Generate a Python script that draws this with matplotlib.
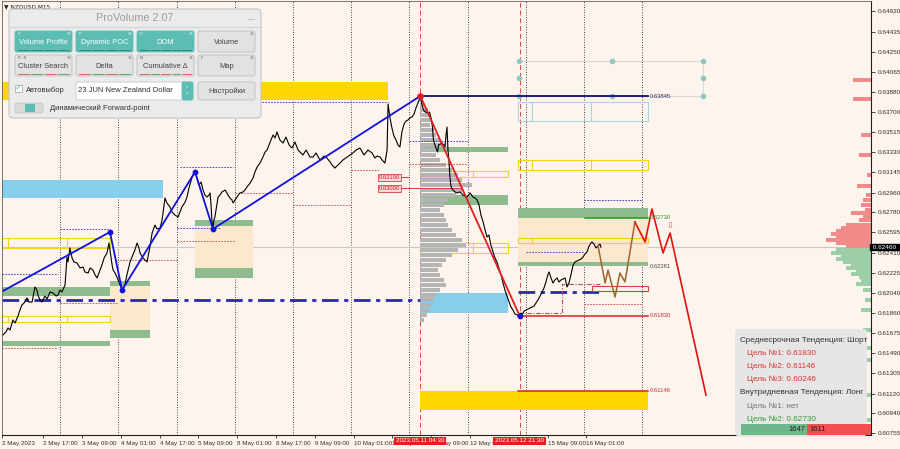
import matplotlib
matplotlib.use("Agg")
import matplotlib.pyplot as plt
from matplotlib.patches import Rectangle, FancyBboxPatch
from matplotlib.transforms import blended_transform_factory

plt.rcParams['font.family'] = ['Liberation Sans', 'DejaVu Sans']

# ---------------- data ----------------
# time axis: trading hours since 2 May 2023 00:00 (weekend skipped)
time_h = [0.4, 1.6, 2.5, 3.3, 4.5, 5.4, 6.6, 7.4, 8.2, 9.1, 10.3, 11.1, 12.4, 13.6, 14.4, 14.8, 15.7, 16.5, 17.7, 18.6,
          19.8, 21.0, 22.3, 23.1, 23.9, 24.7, 26.0, 26.8, 27.2, 28.0, 28.9, 29.7, 30.9, 32.2, 33.4, 34.2, 35.5, 36.3, 37.5,
          38.4, 39.2, 40.4, 41.2, 42.1, 43.3, 44.1, 44.5, 45.4, 45.8, 46.6, 47.4, 48.2, 49.5, 50.3, 50.7, 51.5, 52.0, 52.8,
          53.6, 54.8, 55.7, 56.5, 56.9, 58.1, 59.0, 59.8, 60.6, 61.0, 61.9, 63.1, 63.9, 65.2, 66.0, 66.4, 67.2, 68.0, 69.3,
          70.1, 71.3, 72.6, 73.4, 74.2, 75.5, 76.3, 77.1, 78.4, 79.6, 80.4, 81.2, 82.1, 82.9, 83.7, 84.5, 85.4, 85.8, 86.2,
          86.6, 87.0, 87.4, 87.8, 88.7, 89.1, 89.9, 90.7, 92.0, 93.2, 94.0, 94.8, 95.3, 96.1, 96.9, 98.1, 99.4, 100.2, 101.0,
          102.3, 103.5, 104.3, 105.2, 106.4, 107.6, 108.5, 109.3, 110.1, 110.9, 111.8, 112.6, 113.4, 114.6, 115.9, 117.1,
          118.4, 119.6, 120.8, 122.1, 122.9, 124.1, 125.4, 127.0, 128.2, 129.5, 131.1, 132.8, 134.0, 135.3, 136.1, 137.3,
          138.1, 139.4, 140.6, 142.3, 143.5, 144.7, 146.0, 147.6, 149.3, 150.9, 152.6, 153.8, 154.6, 155.9, 156.7, 157.9,
          158.8, 159.2, 160.0, 160.8, 161.6, 162.5, 163.3, 164.1, 164.9, 165.8, 166.6, 167.4, 168.2, 169.1, 169.9, 170.7,
          172.5, 173.0, 173.8, 174.6, 175.5, 176.3, 177.1, 177.5, 177.9, 178.8, 179.6, 180.0, 180.8, 181.4, 182.3, 182.7,
          183.1, 183.5, 183.9, 184.3, 184.7, 185.2, 186.0, 186.8, 187.6, 188.9, 190.1, 190.9, 191.8, 193.0, 194.2, 195.1,
          195.9, 196.7, 197.5, 198.4, 199.2, 200.0, 200.8, 201.6, 202.5, 203.3, 204.1, 204.9, 205.8, 206.6, 207.4, 208.2,
          209.1, 209.9, 210.7, 211.5, 213.5, 214.0, 214.4, 215.3, 216.1, 216.9, 217.7, 218.6, 219.4, 220.2, 221.0, 221.9,
          222.7, 223.5, 224.3, 225.2, 225.6, 226.4, 227.2, 228.0, 228.9, 229.7, 230.5, 231.3, 232.2, 233.0, 233.8, 234.6,
          235.5, 236.3, 237.1, 237.9, 238.8, 239.6, 240.4, 241.2, 242.1, 242.9, 243.3, 244.1, 244.9, 245.8, 246.6, 247.0]
close = [0.61656, 0.61683, 0.61720, 0.61702, 0.61793, 0.61766, 0.61830, 0.61885, 0.61931, 0.61949, 0.61995, 0.61958,
         0.61958, 0.62096, 0.62068, 0.62022, 0.61977, 0.61958, 0.62013, 0.61986, 0.62050, 0.62041, 0.62013, 0.62022,
         0.62068, 0.62050, 0.62114, 0.62370, 0.62325, 0.62453, 0.62361, 0.62325, 0.62316, 0.62270, 0.62279, 0.62233,
         0.62224, 0.62270, 0.62251, 0.62206, 0.62178, 0.62251, 0.62297, 0.62361, 0.62407, 0.62499, 0.62435, 0.62297,
         0.62251, 0.62224, 0.62187, 0.62141, 0.62068, 0.62096, 0.62114, 0.62206, 0.62251, 0.62325, 0.62370, 0.62435,
         0.62499, 0.62453, 0.62407, 0.62361, 0.62343, 0.62325, 0.62416, 0.62462, 0.62590, 0.62663, 0.62627, 0.62636,
         0.62709, 0.62773, 0.62911, 0.62865, 0.62828, 0.62783, 0.62755, 0.62737, 0.62783, 0.62828, 0.62874, 0.62920,
         0.63002, 0.63103, 0.63149, 0.63094, 0.63030, 0.63057, 0.62984, 0.62938, 0.62920, 0.62938, 0.62957, 0.62847,
         0.62691, 0.62636, 0.62709, 0.62737, 0.62865, 0.62920, 0.62938, 0.62966, 0.62984, 0.62938, 0.62911, 0.62893,
         0.62865, 0.62893, 0.62920, 0.62957, 0.62966, 0.62984, 0.63011, 0.63048, 0.63094, 0.63149, 0.63195, 0.63231,
         0.63286, 0.63332, 0.63350, 0.63396, 0.63442, 0.63488, 0.63460, 0.63515, 0.63442, 0.63414, 0.63469, 0.63396,
         0.63369, 0.63424, 0.63350, 0.63332, 0.63305, 0.63350, 0.63286, 0.63286, 0.63323, 0.63259, 0.63295, 0.63277,
         0.63240, 0.63213, 0.63185, 0.63204, 0.63231, 0.63259, 0.63286, 0.63305, 0.63323, 0.63350, 0.63369, 0.63305,
         0.63350, 0.63323, 0.63277, 0.63295, 0.63286, 0.63259, 0.63231, 0.63350, 0.63772, 0.63644, 0.63552, 0.63479,
         0.63442, 0.63396, 0.63378, 0.63515, 0.63589, 0.63616, 0.63625, 0.63644, 0.63653, 0.63680, 0.63735, 0.63836,
         0.63781, 0.63717, 0.63698, 0.63689, 0.63698, 0.63625, 0.63561, 0.63442, 0.63378, 0.63332, 0.63396, 0.63405,
         0.63414, 0.63396, 0.63378, 0.63488, 0.63561, 0.63350, 0.63259, 0.63103, 0.63011, 0.62984, 0.62966, 0.62957,
         0.62966, 0.62938, 0.62929, 0.62920, 0.62957, 0.62920, 0.62911, 0.62893, 0.62847, 0.62755, 0.62691, 0.62618,
         0.62554, 0.62572, 0.62480, 0.62416, 0.62361, 0.62325, 0.62270, 0.62206, 0.62132, 0.62068, 0.62013, 0.61958,
         0.61912, 0.61885, 0.61849, 0.61830, 0.61858, 0.61839, 0.61876, 0.61885, 0.61894, 0.61903, 0.61912, 0.61921,
         0.61949, 0.61977, 0.62013, 0.62050, 0.62087, 0.62141, 0.62215, 0.62233, 0.62178, 0.62132, 0.62160, 0.62178,
         0.62141, 0.62160, 0.62169, 0.62178, 0.62096, 0.62132, 0.62206, 0.62297, 0.62325, 0.62334, 0.62343, 0.62352,
         0.62370, 0.62398, 0.62416, 0.62471, 0.62499, 0.62508, 0.62490, 0.62453, 0.62471, 0.62490, 0.62460]

current_price = 0.62460

tick_hours = [0, 17, 33, 49, 65, 81, 97, 113, 129, 145, 161, 177, 193, 225, 241]
tick_labels = ["2 May 2023", "2 May 17:00", "3 May 09:00", "4 May 01:00", "4 May 17:00", "5 May 09:00",
               "8 May 01:00", "8 May 17:00", "9 May 09:00", "10 May 01:00", "10 May 17:00", "11 May 09:00",
               "12 May 01:00", "15 May 09:00", "16 May 01:00"]
day_sep_hours = [24, 48, 72, 96, 120, 144, 168, 192, 216, 240, 264]
marker_hours = [172.5, 213.5]
marker_labels = ["2023.05.11 04:30", "2023.05.12 21:30"]

price_ticks = [0.64620, 0.64435, 0.64250, 0.64065, 0.63880, 0.63700, 0.63515, 0.63330, 0.63145, 0.62960, 0.62780,
               0.62595, 0.62410, 0.62225, 0.62040, 0.61860, 0.61675, 0.61490, 0.61305, 0.61120, 0.60940, 0.60755]

# zones: (t_start, t_end, price_low, price_high)
gold_zones = [(0.0, 159.2, 0.63808, 0.63973), (172.4, 266.4, 0.60969, 0.61146)]
sky_zones = [(0.0, 66.4, 0.62911, 0.63076), (172.4, 208.7, 0.61858, 0.62041)]
green_zones = [(0.0, 44.5, 0.62013, 0.62096), (0.0, 44.5, 0.61555, 0.61601),
               (44.5, 61.0, 0.62105, 0.62151), (44.5, 61.0, 0.61628, 0.61702),
               (79.6, 103.5, 0.62654, 0.62709), (79.6, 103.5, 0.62178, 0.62270),
               (172.4, 208.7, 0.63332, 0.63378), (172.4, 208.7, 0.62847, 0.62938),
               (212.8, 266.4, 0.62730, 0.62819), (212.8, 266.4, 0.62287, 0.62325)]
beige_zones = [(44.5, 61.0, 0.61702, 0.62105), (79.6, 103.5, 0.62270, 0.62654), (212.8, 266.4, 0.62325, 0.62730)]
yellow_frames = [(0.0, 44.5, 0.62453, 0.62545), (0.0, 44.5, 0.61775, 0.61830),
                 (172.4, 208.7, 0.63103, 0.63158), (172.4, 208.7, 0.62407, 0.62499),
                 (212.8, 266.4, 0.63167, 0.63259), (212.8, 266.4, 0.62499, 0.62545)]
yellow_dividers = [[2.5, 26.8], [2.5, 26.8], [194.2], [194.2], [218.6, 242.9], [218.6]]
blue_frames = [(212.8, 266.4, 0.63616, 0.63790)]
blue_dividers = [[218.6, 242.9]]

# horizontal levels: (t_start, t_end, price)
blue_dashed = [(0.0, 23.1, 0.62215), (23.9, 44.5, 0.62627), (72.0, 89.9, 0.62636), (73.4, 95.3, 0.63195),
               (106.0, 159.2, 0.63790), (168.0, 192.0, 0.63433), (216.0, 240.0, 0.62416), (240.0, 264.0, 0.62893)]
red_dashed = [(0.0, 23.1, 0.61537), (23.9, 47.4, 0.61949), (47.4, 72.0, 0.62343), (72.0, 96.0, 0.62517),
              (96.0, 120.0, 0.62957), (120.0, 144.0, 0.62847), (144.0, 156.0, 0.63167), (168.0, 192.0, 0.63222),
              (240.0, 264.0, 0.61940)]
poc_lines = [(0.0, 172.4, 0.61977), (212.8, 246.6, 0.62050)]
navy_level = (172.5, 266.4, 0.63845)
red_levels = [(212.8, 266.4, 0.61830), (212.8, 266.4, 0.61146)]
green_level = (240.4, 266.4, 0.62730)
level_label_prices = [0.63845, 0.62730, 0.62281, 0.61830, 0.61146]
level_label_colors = ['#303060', '#2E8B2E', '#505050', '#C03030', '#C03030']

# zigzag (highs/lows)
zz_t = [0.4, 44.5, 49.5, 79.6, 87.0, 172.5]
zz_p = [0.62059, 0.62599, 0.62068, 0.63149, 0.62627, 0.63845]
zz_down_t = [172.5, 213.5]
zz_down_p = [0.63845, 0.61830]

# forecast paths
fc_brown_t = [245.8, 248.7, 249.9, 252.8, 254.8, 256.9, 261.0]
fc_brown_p = [0.62471, 0.62132, 0.62251, 0.62004, 0.62224, 0.62142, 0.62691]
fc_red_t = [261.0, 265.2, 268.0, 272.6, 275.5, 290.3]
fc_red_p = [0.62691, 0.62508, 0.62810, 0.62407, 0.62590, 0.61106]

# brown dash-dot bracket and small red frame
bracket_t = [212.8, 230.9, 230.9, 246.6]
bracket_p = [0.61858, 0.61858, 0.62123, 0.62123]
red_frame = (243.3, 266.4, 0.62059, 0.62105)

# forward-point grid dots
fp_t = [213.2, 251.5, 289.1, 213.2, 289.1, 213.2, 251.5, 289.1]
fp_p = [0.64166, 0.64166, 0.64166, 0.64010, 0.64010, 0.63845, 0.63845, 0.63845]

# labelled price marks
mark_prices = [0.63100, 0.63000]
mark_t = (154.6, 164.9)
mark_line_end = [168.0, 188.9]

# session volume profile (grey), starting at the 11 May high
vp_prices = [0.63808, 0.63763, 0.63717, 0.63671, 0.63625, 0.63579, 0.63534, 0.63488, 0.63442, 0.63396, 0.63350,
             0.63305, 0.63259, 0.63213, 0.63167, 0.63121, 0.63076, 0.63030, 0.62984, 0.62938, 0.62893, 0.62847,
             0.62801, 0.62755, 0.62709, 0.62663, 0.62618, 0.62572, 0.62526, 0.62480, 0.62435, 0.62389, 0.62343,
             0.62297, 0.62251, 0.62206, 0.62160, 0.62114, 0.62068, 0.62022, 0.61977, 0.61931, 0.61885, 0.61839, 0.61793]
vp_volume = [3, 5, 8, 10, 12, 10, 14, 16, 20, 22, 18, 16, 20, 26, 32, 38, 42, 52, 42, 36, 28, 24, 20, 24, 26, 28,
             32, 36, 42, 46, 38, 32, 26, 22, 18, 20, 24, 26, 20, 16, 14, 11, 9, 7, 4]

# right-edge market profile
rp_prices = [0.63992, 0.63818, 0.63488, 0.63305, 0.63121, 0.63021, 0.62938, 0.62893, 0.62847, 0.62801, 0.62773,
             0.62746, 0.62709, 0.62663, 0.62636, 0.62609, 0.62581, 0.62554, 0.62526, 0.62499, 0.62471,
             0.62435, 0.62407, 0.62380, 0.62352, 0.62325, 0.62297, 0.62270, 0.62242, 0.62215, 0.62187, 0.62160,
             0.62123, 0.62068, 0.61977, 0.61885, 0.61702, 0.61537, 0.61427, 0.61106, 0.60877]
rp_volume = [18, 18, 10, 12, 4, 14, 5, 8, 10, 6, 20, 8, 12, 25, 30, 35, 40, 35, 45, 35, 25,
             35, 40, 30, 35, 28, 20, 25, 15, 20, 12, 10, 15, 8, 6, 10, 8, 6, 12, 20, 12]

info_lines = ["Среднесрочная Тенденция: Шорт", "Цель №1: 0.61830", "Цель №2: 0.61146", "Цель №3: 0.60246",
              "Внутридневная Тенденция: Лонг", "Цель №1: нет", "Цель №2: 0.62730"]
info_colors = ['#303030', '#E03030', '#E03030', '#E03030', '#303030', '#707070', '#2E9B2E']
info_indent = [0, 1, 1, 1, 0, 1, 1]
buy_sell = [1647, 1611]

# ---------------- layout ----------------
W, H = 900, 449
AX_L, AX_R, AX_T, AX_B = 2, 871, 1, 435
PX_PER_HOUR = 2.425
REF_PRICE, REF_Y, PX_PER_PRICE = 0.63845, 96, 10918
BG = '#FDF4EE'

fig = plt.figure(figsize=(W / 100, H / 100), dpi=100)
fig.patch.set_facecolor(BG)
ax = fig.add_axes([AX_L / W, 1 - AX_B / H, (AX_R - AX_L) / W, (AX_B - AX_T) / H])
ax.set_facecolor(BG)
XMAX = (AX_R - AX_L) / PX_PER_HOUR
ax.set_xlim(0, XMAX)
ax.set_ylim(REF_PRICE - (AX_B - REF_Y) / PX_PER_PRICE, REF_PRICE + (REF_Y - AX_T) / PX_PER_PRICE)
PXH = 1 / PX_PER_HOUR          # one pixel in hours
PXP = 1 / PX_PER_PRICE         # one pixel in price

for s in ['left', 'top']:
    ax.spines[s].set_color('#606060'); ax.spines[s].set_linewidth(0.6)
for s in ['right', 'bottom']:
    ax.spines[s].set_color('#202020'); ax.spines[s].set_linewidth(0.8)

ax.yaxis.tick_right()
ax.set_yticks(price_ticks)
ax.set_yticklabels([f"{v:.5f}" for v in price_ticks])
ax.tick_params(axis='y', labelsize=4.6, length=3, width=0.6, colors='#303030', pad=1.5)
ax.set_xticks(tick_hours)
ax.set_xticklabels(tick_labels)
for lab in ax.get_xticklabels():
    lab.set_horizontalalignment('left')
ax.tick_params(axis='x', labelsize=4.5, length=2.5, width=0.6, colors='#303030', pad=1.5)

# grid separators
for t in day_sep_hours:
    ax.axvline(t, color='#303030', ls=(0, (1.2, 1.8)), lw=0.6, zorder=1)
for t in marker_hours:
    ax.axvline(t, color='#E04848', ls=(0, (5, 3)), lw=0.7, zorder=1)
ax.axhline(current_price, color='#C8C8C8', lw=0.8, zorder=1)

def rect(z, **kw):
    ax.add_patch(Rectangle((z[0], z[2]), z[1] - z[0], z[3] - z[2], **kw))

for z in beige_zones:
    rect(z, facecolor='#FCE8CC', edgecolor='none', zorder=1.2)
for z in gold_zones:
    rect(z, facecolor='#FFD700', edgecolor='none', zorder=1.3)
for z in sky_zones:
    rect(z, facecolor='#87CEEB', edgecolor='none', zorder=1.3)
for z in green_zones:
    rect(z, facecolor='#8FBC8F', edgecolor='none', zorder=1.3)
for z, dv in zip(yellow_frames, yellow_dividers):
    rect(z, facecolor='none', edgecolor='#F2D21A', lw=0.8, zorder=1.4)
    for t in dv:
        ax.plot([t, t], [z[2], z[3]], color='#F2D21A', lw=0.8, zorder=1.4)
for z, dv in zip(blue_frames, blue_dividers):
    rect(z, facecolor='none', edgecolor='#A9D6E5', lw=0.8, zorder=1.4)
    for t in dv:
        ax.plot([t, t], [z[2], z[3]], color='#A9D6E5', lw=0.8, zorder=1.4)

# grey session profile
ax.barh(vp_prices, [v * PXH for v in vp_volume], height=4.2 * PXP, left=172.4,
        color='#B4B4B4', edgecolor='none', zorder=1.5)
# right-edge profile
rp_len = [v * PXH for v in rp_volume]
ax.barh(rp_prices, rp_len, height=3.2 * PXP, left=[XMAX - l for l in rp_len],
        color=['#F28A8A' if p > current_price else '#9CCFA8' for p in rp_prices],
        edgecolor='none', zorder=1.5)

for t0, t1, p in blue_dashed:
    ax.plot([t0, t1], [p, p], color='#3030C0', ls=(0, (2, 1.5)), lw=0.6, zorder=1.6)
for t0, t1, p in red_dashed:
    ax.plot([t0, t1], [p, p], color='#C04848', ls=(0, (2, 1.5)), lw=0.6, zorder=1.6)
for t0, t1, p in poc_lines:
    ax.plot([t0, t1], [p, p], color='#2828B0', ls=(0, (6, 2, 1.5, 2)), lw=2.0, zorder=1.7)

ax.plot(bracket_t, bracket_p, color='#B05050', ls=(0, (4, 1.5, 1, 1.5)), lw=0.8, zorder=1.7)
rect(red_frame, facecolor='none', edgecolor='#D04040', lw=0.8, zorder=1.7)

# forward-point grid
ax.plot([fp_t[0], fp_t[2]], [fp_p[0], fp_p[0]], color='#D8D8D8', lw=0.8, zorder=1.6)
ax.plot([fp_t[0], fp_t[2]], [fp_p[5], fp_p[5]], color='#D8D8D8', lw=0.8, zorder=1.6)
ax.plot([fp_t[2], fp_t[2]], [fp_p[5], fp_p[0]], color='#D8D8D8', lw=0.8, zorder=1.6)
ax.scatter(fp_t, fp_p, s=16, color='#8FC8C0', zorder=1.8, linewidths=0)

# levels
ax.plot(navy_level[:2], [navy_level[2]] * 2, color='#101070', lw=1.3, zorder=2)
for t0, t1, p in red_levels:
    ax.plot([t0, t1], [p, p], color='#E02020', lw=1.1, zorder=2)
ax.plot(green_level[:2], [green_level[2]] * 2, color='#1E9B1E', lw=1.1, zorder=2)
for p, c in zip(level_label_prices, level_label_colors):
    ax.text(266.4 + 2 * PXH, p, f"{p:.5f}", color=c, fontsize=4.2, va='center', ha='left', zorder=3)

# price series
ax.plot(time_h, close, color='black', lw=0.8, zorder=2.2)

# zigzag
ax.plot(zz_t, zz_p, color='#1010E0', lw=1.3, zorder=2.3)
ax.scatter(zz_t[1:5], zz_p[1:5], s=10, color='#1010E0', zorder=2.4)
ax.plot(zz_down_t, zz_down_p, color='#E02020', lw=1.3, zorder=2.3)
ax.scatter([zz_down_t[0]], [zz_down_p[0]], s=14, color='#E02020', zorder=2.4)
ax.scatter([zz_down_t[1]], [zz_down_p[1]], s=10, color='#1010E0', zorder=2.4)

# forecast
ax.plot(fc_brown_t, fc_brown_p, color='#A0642D', lw=1.1, zorder=2.3)
ax.plot(fc_red_t, fc_red_p, color='#E81010', lw=1.2, zorder=2.3)
ax.text(275.5, 0.62650, "⇩", color='#E05050', fontsize=6, ha='center', va='center', zorder=3,
        family=['DejaVu Sans'])

# labelled price marks
for p, t_end in zip(mark_prices, mark_line_end):
    ax.plot([mark_t[1], t_end], [p, p], color='#D04040', lw=0.7, zorder=2.1)
    ax.text((mark_t[0] + mark_t[1]) / 2, p, f"{p:.5f}", color='#C02020', fontsize=4.2, ha='center', va='center',
            zorder=3, bbox=dict(boxstyle='square,pad=0.15', fc='#F8D8D8', ec='#D04040', lw=0.6))

# current price tag
tr = blended_transform_factory(ax.transAxes, ax.transData)
ax.text(1.0, current_price, f" {current_price:.5f} ", transform=tr, color='white', fontsize=4.6,
        ha='left', va='center', zorder=5, clip_on=False,
        bbox=dict(boxstyle='square,pad=0.12', fc='black', ec='black'))

ax.text(1.5 * PXH, 1 - 6 / (AX_B - AX_T),
        "▼ NZDUSD,M15", transform=blended_transform_factory(ax.transData, ax.transAxes), fontsize=4.2,
        color='#202020', va='center', ha='left', zorder=3, family=['DejaVu Sans'])

# ---------------- overlay (pixel coordinates) ----------------
ov = fig.add_axes([0, 0, 1, 1], zorder=5)
ov.set_xlim(0, W); ov.set_ylim(H, 0); ov.axis('off'); ov.patch.set_alpha(0)

# time marker labels (drawn on the overlay so they cover the axis labels beneath)
for t, lab in zip(marker_hours, marker_labels):
    xc = AX_L + t * PX_PER_HOUR
    ov.text(xc, 441, lab, color='white', fontsize=4.5, ha='center', va='center', zorder=6,
            bbox=dict(boxstyle='square,pad=0.3', fc='#E41E1E', ec='none'))

TEAL = '#5CBDB3'
ov.add_patch(FancyBboxPatch((9, 9), 252, 109, boxstyle='round,pad=0,rounding_size=4', fc='#EBEBEB',
                            ec='#C4C4C4', lw=0.8))
ov.plot([9, 261], [27, 27], color='#D4D4D4', lw=0.8)
ov.text(135, 18, "ProVolume 2.07", fontsize=7.8, color='#9C9C9C', ha='center', va='center')
ov.text(252, 20, "—", fontsize=5, color='#A0A0A0', ha='center', va='center')

btn_cols = [(15, 72), (76, 133), (137, 194), (198, 255)]
rows = [(31, 52), (55, 76)]
btn_text = [["Volume Profile", "Dynamic POC", "DOM", "Volume"], ["Cluster Search", "Delta", "Cumulative Δ", "Map"]]
btn_key = [["V", "P", "D", ""], ["R   N", "", "M", "F"]]
btn_on = [[True, True, True, False], [False, False, False, False]]
for r, (y0, y1) in enumerate(rows):
    for c, (x0, x1) in enumerate(btn_cols):
        on = btn_on[r][c]
        ov.add_patch(FancyBboxPatch((x0, y0), x1 - x0, y1 - y0, boxstyle='round,pad=0,rounding_size=2',
                                    fc=TEAL if on else '#E2E2E2', ec='#BEBEBE' if not on else TEAL, lw=0.6))
        ov.text((x0 + x1) / 2, (y0 + y1) / 2 + 1, btn_text[r][c], fontsize=5.4,
                color='white' if on else '#404040', ha='center', va='center')
        ov.text(x0 + 3, y0 + 3, btn_key[r][c], fontsize=2.6, color='white' if on else '#606060',
                ha='left', va='center')
        ov.text(x1 - 3, y0 + 3, "⚙", fontsize=3.2, color='#F0F0F0' if on else '#707070', ha='center',
                va='center', family=['DejaVu Sans'])
        if c < 3:
            n = 4 if c != 2 else 5
            w = (x1 - x0 - 4) / n
            for k in range(n):
                ov.plot([x0 + 2 + k * w + 1, x0 + 2 + (k + 1) * w - 1], [y1 - 2, y1 - 2],
                        color=('#2E7D73' if on else ('#D05050' if k % 2 == 0 else '#40A060')), lw=0.6)
# settings row
ov.add_patch(Rectangle((15, 85), 7, 7, fc='white', ec='#A0A0A0', lw=0.5))
ov.text(18.5, 87.5, "✓", fontsize=6, color=TEAL, ha='center', va='center', family=['DejaVu Sans'])
ov.text(26, 90, "Автовыбор", fontsize=5.4, color='#303030', ha='left', va='center')
ov.add_patch(FancyBboxPatch((76, 82), 117, 18, boxstyle='round,pad=0,rounding_size=2', fc='white',
                            ec='#C8C8C8', lw=0.6))
ov.add_patch(FancyBboxPatch((182, 82), 11, 18, boxstyle='round,pad=0,rounding_size=2', fc=TEAL, ec=TEAL, lw=0.6))
ov.text(187.5, 91, "⌃\n⌄", fontsize=3.5, color='white', ha='center', va='center', linespacing=0.6,
        family=['DejaVu Sans'])
ov.text(78, 91, "23 JUN New Zealand Dollar", fontsize=5.5, color='#303030', ha='left', va='center')
ov.add_patch(FancyBboxPatch((198, 82), 57, 18, boxstyle='round,pad=0,rounding_size=2', fc='#E2E2E2',
                            ec='#BEBEBE', lw=0.6))
ov.text(226.5, 91, "Настройки", fontsize=5.4, color='#404040', ha='center', va='center')
ov.add_patch(FancyBboxPatch((15, 103), 28, 10, boxstyle='round,pad=0,rounding_size=2', fc='#DADADA',
                            ec='#C0C0C0', lw=0.5))
ov.add_patch(Rectangle((25, 104), 10, 8, fc=TEAL, ec='none'))
ov.text(50, 108.5, "Динамический Forward-point", fontsize=5.4, color='#303030', ha='left', va='center')

# info panel
ov.add_patch(FancyBboxPatch((735, 329), 132, 107, boxstyle='round,pad=0,rounding_size=3', fc='#E6E6E6',
                            ec='none', alpha=0.97))
y = 340
for txt, col, ind in zip(info_lines, info_colors, info_indent):
    ov.text(740 + 7 * ind, y, txt, fontsize=5.9, color=col, ha='left', va='center')
    y += 13.2
ov.add_patch(Rectangle((741, 424), 66, 11, fc='#6DB88A', ec='none'))
ov.add_patch(Rectangle((807, 424), 64, 11, fc='#F25050', ec='none'))
ov.text(805, 429.5, str(buy_sell[0]), fontsize=5.4, color='#202020', ha='right', va='center')
ov.text(809, 429.5, str(buy_sell[1]), fontsize=5.4, color='#202020', ha='left', va='center')

fig.savefig("out.png", dpi=100, facecolor=BG)
